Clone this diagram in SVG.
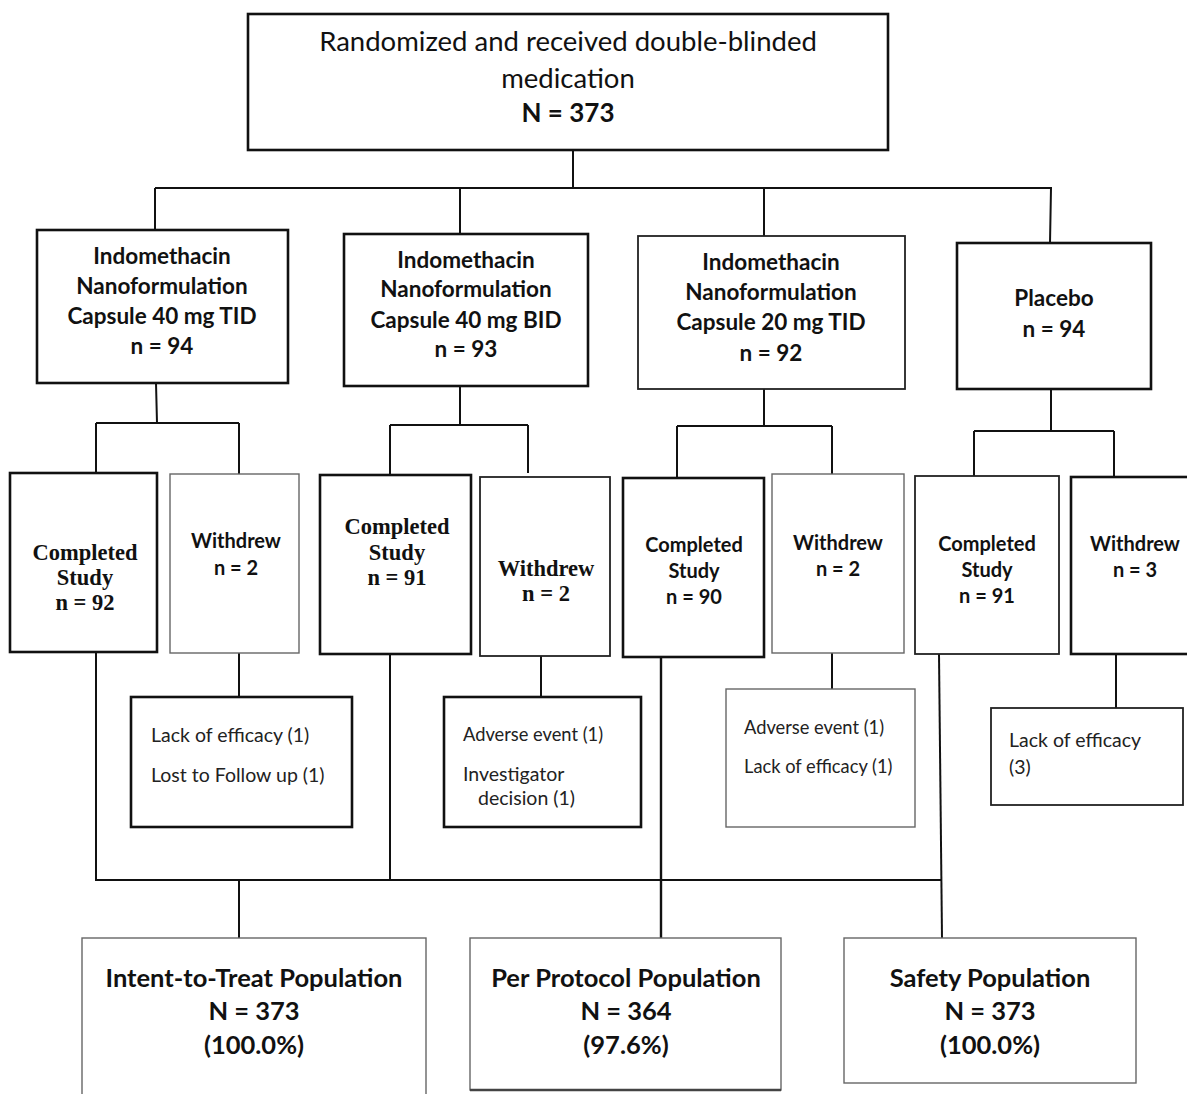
<svg xmlns="http://www.w3.org/2000/svg" width="1187" height="1094" viewBox="0 0 1187 1094">
<style>
.bg{fill:#fff}
.thick{fill:#fff;stroke:#111;stroke-width:2.6}
.med{fill:#fff;stroke:#222;stroke-width:1.8}
.thin{fill:#fff;stroke:#666;stroke-width:1.4}
.conn{fill:none;stroke:#111;stroke-width:2}
text{fill:#111}
.top{font-family:Lato,"Liberation Sans",sans-serif;font-size:27.5px;text-anchor:middle}
.topb{font-family:Lato,"Liberation Sans",sans-serif;font-size:26px;font-weight:bold;text-anchor:middle}
.arm{font-family:Lato,"Liberation Sans",sans-serif;font-size:22.5px;font-weight:bold;text-anchor:middle}
.ser{font-family:"Liberation Serif",serif;font-size:22.5px;font-weight:bold;text-anchor:middle}
.sans{font-family:Lato,"Liberation Sans",sans-serif;font-size:20px;font-weight:bold;text-anchor:middle}
.rs{font-family:Lato,"Liberation Sans",sans-serif;font-size:19.5px;fill:#222}
.rss{font-family:Lato,"Liberation Sans",sans-serif;font-size:18.3px;fill:#222}
.pop{font-family:Lato,"Liberation Sans",sans-serif;font-size:25.5px;font-weight:bold;text-anchor:middle}
</style>
<rect class="bg" x="0" y="0" width="1187" height="1094"/>

<g id="connectors">
  <path class="conn" d="M573 150 V188 M155 188 H1052 M155 188 V230 M460 188 V234 M764 188 V236 M1051 188 L1050 243"/>
  <path class="conn" d="M156 383 L157 423 M96 423 H239 M96 423 V473 M239 423 V474"/>
  <path class="conn" d="M460 386 V425 M390 425 H528 M390 425 V475 M528 425 V473"/>
  <path class="conn" d="M764 389 V426 M677 426 H832 M677 426 V478 M832 426 V474"/>
  <path class="conn" d="M1051 389 V431 M974 431 H1114 M974 431 V476 M1114 431 V477"/>
  <path class="conn" d="M239 653 V697 M541 656 V697 M832 653 V689 M1116 654 V708"/>
  <path class="conn" d="M96 652 V880 H942 M390 654 V880 M239 880 V938"/>
  <path class="conn" d="M661 657 V938" style="stroke-width:2.4"/>
  <path class="conn" d="M939 654 L942 938"/>
</g>

<g id="randomized">
  <rect class="thick" x="248" y="14" width="640" height="136"/>
  <text class="top" x="568" y="51">Randomized and received double-blinded</text>
  <text class="top" x="568" y="88">medication</text>
  <text class="topb" x="568" y="122">N = 373</text>
</g>

<g id="arm1">
  <rect class="thick" x="37" y="230" width="251" height="153"/>
  <text class="arm" x="162" y="264">Indomethacin</text>
  <text class="arm" x="162" y="294">Nanoformulation</text>
  <text class="arm" x="162" y="324">Capsule 40 mg TID</text>
  <text class="arm" x="162" y="354">n = 94</text>
</g>
<g id="arm2">
  <rect class="thick" x="344" y="234" width="244" height="152"/>
  <text class="arm" x="466" y="268">Indomethacin</text>
  <text class="arm" x="466" y="297">Nanoformulation</text>
  <text class="arm" x="466" y="328">Capsule 40 mg BID</text>
  <text class="arm" x="466" y="357">n = 93</text>
</g>
<g id="arm3">
  <rect class="med" x="638" y="236" width="267" height="153"/>
  <text class="arm" x="771" y="270">Indomethacin</text>
  <text class="arm" x="771" y="300">Nanoformulation</text>
  <text class="arm" x="771" y="330">Capsule 20 mg TID</text>
  <text class="arm" x="771" y="361">n = 92</text>
</g>
<g id="placebo">
  <rect class="thick" x="957" y="243" width="194" height="146"/>
  <text class="arm" x="1054" y="306">Placebo</text>
  <text class="arm" x="1054" y="337">n = 94</text>
</g>

<g id="completed1">
  <rect class="thick" x="10" y="473" width="147" height="179"/>
  <text class="ser" x="85" y="560">Completed</text>
  <text class="ser" x="85" y="585">Study</text>
  <text class="ser" x="85" y="610">n = 92</text>
</g>
<g id="withdrew1">
  <rect class="thin" x="170" y="474" width="129" height="179"/>
  <text class="sans" x="236" y="548">Withdrew</text>
  <text class="sans" x="236" y="575">n = 2</text>
</g>
<g id="completed2">
  <rect class="thick" x="320" y="475" width="151" height="179"/>
  <text class="ser" x="397" y="534">Completed</text>
  <text class="ser" x="397" y="560">Study</text>
  <text class="ser" x="397" y="585">n = 91</text>
</g>
<g id="withdrew2">
  <rect class="med" x="480" y="477" width="130" height="179"/>
  <text class="ser" x="546" y="576">Withdrew</text>
  <text class="ser" x="546" y="601">n = 2</text>
</g>
<g id="completed3">
  <rect class="thick" x="623" y="478" width="141" height="179"/>
  <text class="sans" x="694" y="552">Completed</text>
  <text class="sans" x="694" y="578">Study</text>
  <text class="sans" x="694" y="604">n = 90</text>
</g>
<g id="withdrew3">
  <rect class="thin" x="772" y="474" width="132" height="179"/>
  <text class="sans" x="838" y="550">Withdrew</text>
  <text class="sans" x="838" y="576">n = 2</text>
</g>
<g id="completed4">
  <rect class="med" x="915" y="476" width="144" height="178"/>
  <text class="sans" x="987" y="551">Completed</text>
  <text class="sans" x="987" y="577">Study</text>
  <text class="sans" x="987" y="603">n = 91</text>
</g>
<g id="withdrew4">
  <rect class="thick" x="1071" y="477" width="125" height="177"/>
  <text class="sans" x="1135" y="551">Withdrew</text>
  <text class="sans" x="1135" y="577">n = 3</text>
</g>

<g id="reasons1">
  <rect class="thick" x="131" y="697" width="221" height="130"/>
  <text class="rs" x="151" y="742">Lack of efficacy (1)</text>
  <text class="rs" x="151" y="782">Lost to Follow up (1)</text>
</g>
<g id="reasons2">
  <rect class="thick" x="444" y="697" width="197" height="130"/>
  <text class="rss" x="463" y="741">Adverse event (1)</text>
  <text class="rs" x="463" y="781">Investigator</text>
  <text class="rs" x="478" y="805">decision (1)</text>
</g>
<g id="reasons3">
  <rect class="thin" x="726" y="689" width="189" height="138"/>
  <text class="rss" x="744" y="734">Adverse event (1)</text>
  <text class="rss" x="744" y="773">Lack of efficacy (1)</text>
</g>
<g id="reasons4">
  <rect class="med" x="991" y="708" width="192" height="97"/>
  <text class="rs" x="1009" y="747">Lack of efficacy</text>
  <text class="rs" x="1009" y="774">(3)</text>
</g>

<g id="itt">
  <rect class="thin" x="82" y="938" width="344" height="170"/>
  <text class="pop" x="254" y="987">Intent-to-Treat Population</text>
  <text class="pop" x="254" y="1020">N = 373</text>
  <text class="pop" x="254" y="1054">(100.0%)</text>
</g>
<g id="perprotocol">
  <rect class="thin" x="470" y="938" width="311" height="152"/>
  <line x1="470" y1="1090" x2="781" y2="1090" stroke="#444" stroke-width="2.4"/>
  <text class="pop" x="626" y="987">Per Protocol Population</text>
  <text class="pop" x="626" y="1020">N = 364</text>
  <text class="pop" x="626" y="1054">(97.6%)</text>
</g>
<g id="safety">
  <rect class="thin" x="844" y="938" width="292" height="145"/>
  <text class="pop" x="990" y="987">Safety Population</text>
  <text class="pop" x="990" y="1020">N = 373</text>
  <text class="pop" x="990" y="1054">(100.0%)</text>
</g>
</svg>
